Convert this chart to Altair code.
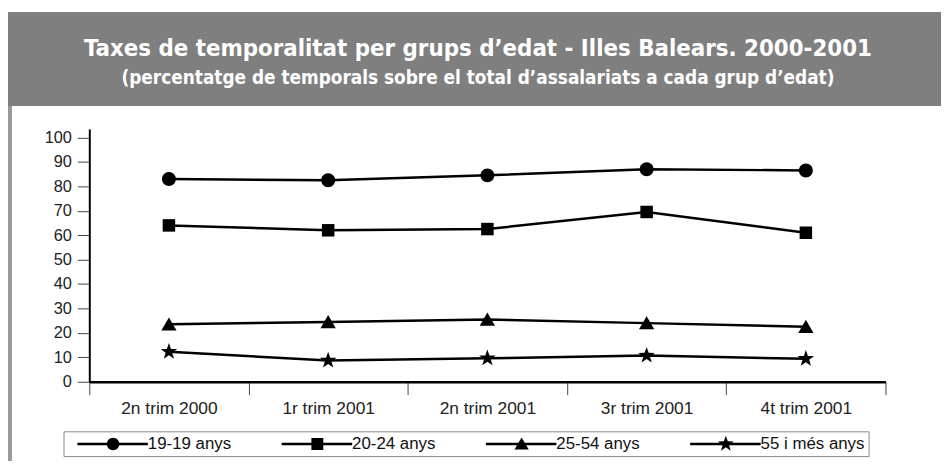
import math
import altair as alt
import pandas as pd

# ---------------- data ----------------
quarters = ["2n trim 2000", "1r trim 2001", "2n trim 2001", "3r trim 2001", "4t trim 2001"]
series = ["19-19 anys", "20-24 anys", "25-54 anys", "55 i més anys"]
v_19_19 = [83.0, 82.5, 84.5, 87.0, 86.5]
v_20_24 = [64.0, 62.0, 62.5, 69.5, 61.0]
v_25_54 = [23.5, 24.5, 25.5, 24.0, 22.5]
v_55 = [12.3, 8.7, 9.6, 10.7, 9.4]
y_ticks = [0, 10, 20, 30, 40, 50, 60, 70, 80, 90, 100]
title_text = "Taxes de temporalitat per grups d’edat - Illes Balears. 2000-2001"
subtitle_text = "(percentatge de temporals sobre el total d’assalariats a cada grup d’edat)"

rows = []
for s, vals in zip(series, [v_19_19, v_20_24, v_25_54, v_55]):
    for q, v in zip(quarters, vals):
        rows.append({"trim": q, "serie": s, "valor": v})
df = pd.DataFrame(rows)

# ---------------- symbol geometry ----------------
def fmt(v):
    return f"{v:.3f}".rstrip("0").rstrip(".")

def circle_path(cx, r):
    return (f"M{fmt(cx + r)},0A{fmt(r)},{fmt(r)} 0 1,1 {fmt(cx - r)},0"
            f"A{fmt(r)},{fmt(r)} 0 1,1 {fmt(cx + r)},0Z")

def square_path(cx, h):
    return (f"M{fmt(cx - h)},{fmt(-h)}L{fmt(cx + h)},{fmt(-h)}"
            f"L{fmt(cx + h)},{fmt(h)}L{fmt(cx - h)},{fmt(h)}Z")

def triangle_path(cx, w, top, bottom):
    return f"M{fmt(cx)},{fmt(top)}L{fmt(cx + w)},{fmt(bottom)}L{fmt(cx - w)},{fmt(bottom)}Z"

def star_path(cx, R):
    pts = []
    for k in range(10):
        rad = R if k % 2 == 0 else R * 0.4
        ang = math.radians(-90 + 36 * k)
        pts.append((cx + rad * math.cos(ang), rad * math.sin(ang)))
    return "M" + "L".join(f"{fmt(x)},{fmt(y)}" for x, y in pts) + "Z"

def bar_path(x0, x1, t):
    return f"M{fmt(x0)},{fmt(-t)}L{fmt(x1)},{fmt(-t)}L{fmt(x1)},{fmt(t)}L{fmt(x0)},{fmt(t)}Z"

point_shapes = [circle_path(0, 1.0), square_path(0, 0.9),
                triangle_path(0, 1.1, -1.0, 0.9), star_path(0, 1.25)]

mx = 6.25
seg = bar_path(0.25, 12.1, 0.21)
legend_shapes = [seg + circle_path(mx, 1.05), seg + square_path(mx, 1.0),
                 seg + triangle_path(mx, 1.2, -1.1, 0.95), seg + star_path(mx, 1.4)]

FONT = "Liberation Sans, Arial, Helvetica, sans-serif"
TFONT = "DejaVu Sans Condensed, Liberation Sans Narrow, Arial Narrow, sans-serif"
W, H = 803, 255

# ---------------- layers ----------------
xenc = alt.X("trim:N", sort=quarters, bandPosition=0.5,
             scale=alt.Scale(type="band", domain=quarters, paddingInner=0, paddingOuter=0),
             axis=alt.Axis(title=None, labelAngle=0, tickBand="extent", tickSize=13,
                           tickColor="#444", tickWidth=1, domainColor="black", domainWidth=2.5,
                           labelFont=FONT, labelFontSize=17.5, labelColor="#222",
                           labelPadding=5, grid=False))
yenc = alt.Y("valor:Q",
             scale=alt.Scale(domain=[0, 103.5], nice=False, zero=True),
             axis=alt.Axis(title=None, values=y_ticks, tickSize=12, tickColor="#444",
                           tickWidth=1, domainColor="black", domainWidth=2,
                           labelFont=FONT, labelFontSize=16.5, labelColor="#222",
                           labelPadding=6, grid=False))

base = alt.Chart(df).encode(x=xenc, y=yenc)

lines = base.mark_line(color="black", strokeWidth=2.5).encode(detail="serie:N")

points = base.mark_point(filled=True, color="black", opacity=1, size=196).encode(
    shape=alt.Shape("serie:N", scale=alt.Scale(domain=series, range=point_shapes), legend=None)
)

legend_layer = alt.Chart(df).transform_filter("false").mark_point(
    filled=True, color="black", opacity=1
).encode(
    shape=alt.Shape("serie:N", scale=alt.Scale(domain=series, range=legend_shapes),
                    legend=alt.Legend(title=None, orient="none", legendX=-26, legendY=305,
                                      direction="horizontal", columns=4, gridAlign="all",
                                      symbolSize=144, symbolStrokeWidth=0,
                                      symbolFillColor="black",
                                      symbolOpacity=1, symbolOffset=0,
                                      labelFont=FONT, labelFontSize=17, labelColor="#111",
                                      labelOffset=64, columnPadding=20, padding=4,
                                      strokeColor="#888", fillColor="white"))
)

one = pd.DataFrame({"t": [title_text], "s": [subtitle_text]})
header = alt.Chart(one).mark_rect(color="#7f7f7f").encode(
    x=alt.value(-82), x2=alt.value(859), y=alt.value(-118), y2=alt.value(-23))
side = alt.Chart(one).mark_rect(color="#999999").encode(
    x=alt.value(-82), x2=alt.value(-78), y=alt.value(-23), y2=alt.value(335))
title = alt.Chart(one).mark_text(font=TFONT, fontSize=24, fontWeight="bold", color="white",
                                 align="center", baseline="alphabetic").encode(
    text="t:N", x=alt.value(392), y=alt.value(-74))
subtitle = alt.Chart(one).mark_text(font=TFONT, fontSize=19, fontWeight="bold", color="white",
                                    align="center", baseline="alphabetic").encode(
    text="s:N", x=alt.value(392), y=alt.value(-45))

chart = alt.layer(header, side, title, subtitle, lines, points, legend_layer).resolve_scale(
    shape="independent"
).properties(
    width=W, height=H,
    padding={"left": 82, "top": 120, "right": 56, "bottom": 80},
    autosize=alt.AutoSizeParams(type="none"),
    background="white",
).configure_view(stroke=None)

chart.save("out.html", embed_options={"renderer": "svg", "actions": False})
